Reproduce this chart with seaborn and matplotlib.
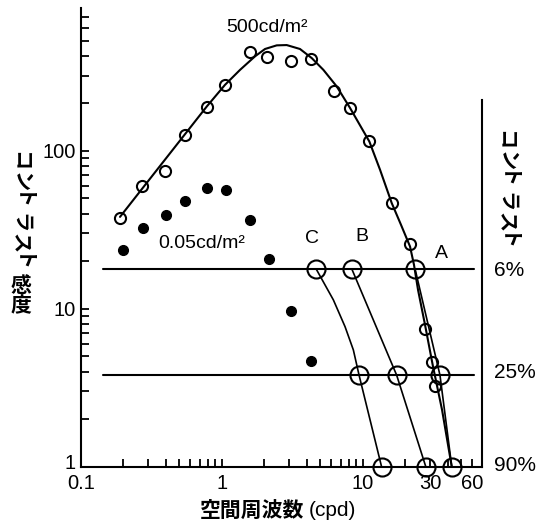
import numpy as np
import pandas as pd
import matplotlib
matplotlib.use("Agg")
import matplotlib.pyplot as plt
import matplotlib.transforms as mtransforms
import seaborn as sns
from matplotlib.ticker import FixedLocator, FixedFormatter, NullFormatter

# ---------------- data ----------------
# 500 cd/m2 measured points (open circles)
freq_bright = [0.19, 0.271, 0.396, 0.549, 0.783, 1.055, 1.588, 2.106, 3.10, 4.28,
               6.26, 8.13, 11.1, 16.1, 21.7, 27.7, 30.8, 32.6]
sens_bright = [37.5, 60.1, 74.8, 126.5, 191, 262, 426, 396, 369, 382,
               238, 187, 114.7, 46.7, 25.7, 7.43, 4.63, 3.26]
# 0.05 cd/m2 measured points (filled circles)
freq_dim = [0.199, 0.278, 0.401, 0.549, 0.783, 1.067, 1.588, 2.165, 3.08, 4.28]
sens_dim = [23.4, 32.4, 39.4, 48.5, 57.8, 56.4, 36.4, 20.6, 9.74, 4.70]
# fitted curve through the 500 cd/m2 data (traced)
curve_x = [0.190, 0.783, 1.055, 1.349, 1.722, 2.028, 2.455, 2.89, 3.59, 4.35,
           5.26, 6.54, 8.13, 11.14, 13.27, 16.06, 18.69, 21.65, 23.1, 24.67,
           27.66, 31.52, 36.52, 42.78]
curve_y = [38.2, 191, 262, 326, 397, 442, 466, 468, 442, 387,
           326, 256, 187, 114.7, 75.9, 46.7, 34.0, 24.8, 18.97, 13.18,
           7.91, 4.30, 2.29, 1.0]
# contrast levels (sensitivity equivalent) and labels
contrast_sens = [17.9, 3.8, 1.0]
contrast_labels = ["6%", "25%", "90%"]
hline_x = [0.143, 62]
# cut-off frequencies of the three conditions at each contrast
cut_A = [23.5, 35.3, 42.8]
cut_B = [8.36, 17.4, 28.0]
cut_C = [4.67, 9.42, 13.6]
path_C_x = [4.67, 6.19, 7.49, 8.58, 9.42, 13.6]
path_C_y = [17.9, 11.39, 7.71, 5.49, 3.8, 1.0]

# ---------------- figure ----------------
sns.set_theme(style="ticks")
plt.rcParams['font.family'] = ['Liberation Sans', 'Noto Sans CJK JP', 'DejaVu Sans']
W, H = 547, 524
fig = plt.figure(figsize=(W / 100, H / 100), dpi=100)
ax = fig.add_axes([80.7 / W, (H - 466.7) / H, (481.9 - 80.7) / W, (466.7 - 8.3) / H])
ax.set_xscale('log')
ax.set_yscale('log')
ax.set_xlim(0.1, 70)
ax.set_ylim(1, 800)

lw = 1.5
# horizontal contrast lines
for s in contrast_sens[:2]:
    sns.lineplot(x=hline_x, y=[s, s], estimator=None, sort=False, color='black',
                 linewidth=lw, ax=ax)

# fitted curve
sns.lineplot(x=curve_x, y=curve_y, estimator=None, sort=False, color='black',
             linewidth=lw, ax=ax, clip_on=False)

# A, B, C connecting lines
sns.lineplot(x=cut_A, y=contrast_sens, estimator=None, sort=False, color='black',
             linewidth=1.2, ax=ax, clip_on=False)
sns.lineplot(x=cut_B, y=contrast_sens, estimator=None, sort=False, color='black',
             linewidth=1.2, ax=ax, clip_on=False)
sns.lineplot(x=path_C_x, y=path_C_y, estimator=None, sort=False, color='black',
             linewidth=1.2, ax=ax, clip_on=False)

# big open circles at cut-offs
for cx in (cut_A, cut_B, cut_C):
    sns.lineplot(x=cx, y=contrast_sens, estimator=None, sort=False, color='black',
                 linestyle='', marker='o', markersize=13, markerfacecolor='none',
                 markeredgecolor='black', markeredgewidth=1.5, ax=ax, clip_on=False)

# measured points
sns.lineplot(x=freq_bright, y=sens_bright, estimator=None, sort=False, color='black',
             linestyle='', marker='o', markersize=8, markerfacecolor='none',
             markeredgecolor='black', markeredgewidth=1.5, ax=ax)
sns.lineplot(x=freq_dim, y=sens_dim, estimator=None, sort=False, color='black',
             linestyle='', marker='o', markersize=7, markerfacecolor='black',
             markeredgecolor='black', markeredgewidth=1, ax=ax)

# ---------------- axes styling ----------------
ax.spines['top'].set_visible(False)
ax.spines['right'].set_bounds(1, 210)
for sp in ['left', 'bottom', 'right']:
    ax.spines[sp].set_linewidth(1.5)
    ax.spines[sp].set_color('black')

ax.xaxis.set_major_locator(FixedLocator([0.1, 1, 10, 30, 60]))
ax.xaxis.set_major_formatter(FixedFormatter(["0.1", "1", "10", "30", "60"]))
ax.xaxis.set_minor_locator(FixedLocator([0.2, 0.3, 0.4, 0.5, 0.6, 0.7, 0.8, 0.9,
                                         2, 3, 4, 5, 6, 7, 8, 9, 20, 40, 50]))
ax.xaxis.set_minor_formatter(NullFormatter())
ax.yaxis.set_major_locator(FixedLocator([1, 10, 100]))
ax.yaxis.set_major_formatter(FixedFormatter(["1", "10", "100"]))
ax.yaxis.set_minor_locator(FixedLocator([2, 3, 4, 5, 6, 7, 8, 9,
                                         20, 30, 40, 50, 60, 70, 80, 90,
                                         200, 300, 400, 500, 600, 700]))
ax.yaxis.set_minor_formatter(NullFormatter())
ax.tick_params(axis='both', which='both', direction='in', length=6, width=1.3,
               color='black', labelsize=14.5, labelcolor='black')
ax.tick_params(axis='y', which='both', pad=3.5, right=False)
ax.tick_params(axis='x', which='both', pad=5, top=False)
ax.set_xlabel('')
ax.set_ylabel('')

# ---------------- annotations ----------------
ax.text(2.085, 609, "500cd/m²", fontsize=14, ha='center', va='center', color='black')
ax.text(0.7166, 26.0, "0.05cd/m²", fontsize=14, ha='center', va='center', color='black')
ax.text(4.35, 28.0, "C", fontsize=14, ha='center', va='center', color='black')
ax.text(9.84, 28.7, "B", fontsize=14, ha='center', va='center', color='black')
ax.text(35.9, 22.3, "A", fontsize=14, ha='center', va='center', color='black')
for lab, yy in zip(contrast_labels, [17.6, 3.93, 1.025]):
    ax.text(85.3, yy, lab, fontsize=15, ha='left', va='center', color='black',
            clip_on=False)

jp = dict(family=['Noto Sans CJK JP', 'DejaVu Sans'], fontweight='bold', color='black')
pitch = 20.6
# left vertical label: katakana rotated, kanji upright
for i, ch in enumerate("コントラスト"):
    fig.text(21 / W, 1 - (161 + i * pitch) / H, ch, rotation=-90, fontsize=14.5,
             ha='center', va='center', **jp)
fig.text(21 / W, 1 - 285 / H, "感", fontsize=15, ha='center', va='center', **jp)
fig.text(21 / W, 1 - 306 / H, "度", fontsize=15, ha='center', va='center', **jp)
# right vertical label
for i, ch in enumerate("コントラスト"):
    fig.text(506.7 / W, 1 - (140 + i * pitch) / H, ch, rotation=-90, fontsize=14.5,
             ha='center', va='center', **jp)
fig.text(252 / W, 1 - 510.5 / H, "空間周波数", fontsize=15, ha='center', va='center', **jp)
fig.text(332 / W, 1 - 510.5 / H, "(cpd)", fontsize=15, ha='center', va='center',
         color='black')

# lift the lowest y tick label slightly (as in the reference)
ax.yaxis.get_major_ticks()
ylabs = ax.get_yticklabels()
off = mtransforms.ScaledTranslation(0, 5 / 100, fig.dpi_scale_trans)
ylabs[0].set_transform(ylabs[0].get_transform() + off)

fig.savefig("out.png", dpi=100, facecolor='white')
